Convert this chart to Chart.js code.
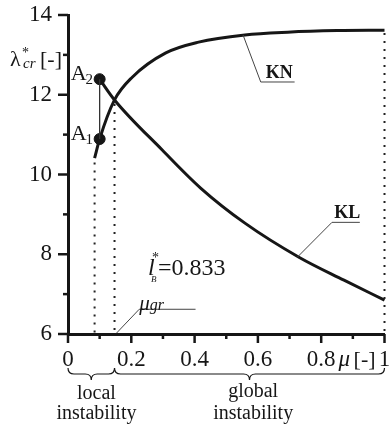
<!DOCTYPE html>
<html>
<head>
<meta charset="utf-8">
<script src="https://cdn.jsdelivr.net/npm/chart.js@4.4.1/dist/chart.umd.min.js"></script>
<style>
  html, body { margin: 0; padding: 0; background: #fff; }
  #probe { position: absolute; left: -999px; top: 0; font-family: "Liberation Serif"; }
</style>
</head>
<body>
<span id="probe">0.2 <i>μ</i> <b>KN</b></span>
<canvas id="chart" width="391" height="430"></canvas>
<script>
// ================= DATA =================
// KN curve (rising)
const knMu     = [0.084, 0.1,   0.147, 0.203, 0.309, 0.4125, 0.559, 0.694, 0.85,  1.0];
const knLambda = [10.41, 10.89, 11.87, 12.44, 13.05, 13.32,  13.50, 13.57, 13.61, 13.62];

// KL curve (falling), starts at A2
const klMu     = [0.1,   0.147, 0.297, 0.419, 0.559, 0.731, 0.872, 1.0];
const klLambda = [12.39, 11.87, 10.62, 9.66,  8.78,  7.92,  7.35,  6.85];

// marked points
const pointNames  = ['1', '2'];
const pointMu     = [0.1, 0.1];
const pointLambda = [10.89, 12.39];

const muStart = 0.084;   // start of KN
const muGr    = 0.147;   // crossing of KN and KL
const lambdaGr = 11.87;
const lbValue = '0.833';

// axes
const xTickValues = [0, 0.2, 0.4, 0.6, 0.8, 1];
const xTickLabels = ['0', '0.2', '0.4', '0.6', '0.8', '1'];
const yTickValues = [6, 8, 10, 12, 14];
const yTickLabels = ['6', '8', '10', '12', '14'];

const INK = '#161616';
const SERIF = '"Liberation Serif", "Times New Roman", serif';

// ================= HELPERS =================
const pts = (xs, ys) => xs.map((x, i) => ({ x: x, y: ys[i] }));

function labelFor(v, values, labels) {
  const i = values.findIndex(t => Math.abs(t - v) < 1e-6);
  return i < 0 ? '' : labels[i];
}

function lineSet(data, extra) {
  return Object.assign({
    data: data, showLine: true, pointRadius: 0, borderColor: INK,
    borderWidth: 1, fill: false, clip: false
  }, extra);
}

// ================= DECOR PLUGIN =================
const decor = {
  id: 'decor',
  afterDraw(chart) {
    const { ctx, chartArea: area } = chart;
    const xs = chart.scales.x, ys = chart.scales.y;
    const px = v => xs.getPixelForValue(v);
    const py = v => ys.getPixelForValue(v);

    ctx.save();
    ctx.strokeStyle = INK;
    ctx.fillStyle = INK;

    // tick marks (long for labelled, short for the rest)
    ctx.lineWidth = 2.5;
    xs.ticks.forEach(t => {
      const x = px(t.value);
      const len = labelFor(t.value, xTickValues, xTickLabels) ? 9 : 5;
      ctx.beginPath(); ctx.moveTo(x, area.bottom); ctx.lineTo(x, area.bottom + len); ctx.stroke();
    });
    ys.ticks.forEach(t => {
      const y = py(t.value);
      const len = labelFor(t.value, yTickValues, yTickLabels) ? 10 : 5;
      ctx.beginPath(); ctx.moveTo(area.left, y); ctx.lineTo(area.left - len, y); ctx.stroke();
    });

    const text = (s, x, y, font, align) => {
      ctx.font = font;
      ctx.textAlign = align || 'left';
      ctx.textBaseline = 'alphabetic';
      ctx.fillText(s, x, y);
      return ctx.measureText(s).width;
    };

    // y axis title  λ*cr [-]
    const tx = area.left - 58, ty = py(12.72);
    text('λ', tx, ty, '22px ' + SERIF);
    text('*', tx + 12, ty - 9, '14px ' + SERIF);
    text('cr', tx + 13, ty + 2, 'italic 15px ' + SERIF);
    text('[-]', tx + 30, ty, '22px ' + SERIF);

    // x axis title  μ [-]
    const mx = px(0.855), my = area.bottom + 32;
    text('μ', mx, my, 'italic 23px ' + SERIF);
    text('[-]', mx + 15, my, '22px ' + SERIF);

    // point labels A1, A2
    pointNames.forEach((n, i) => {
      const x = px(pointMu[i]) - 29, y = py(pointLambda[i]);
      const w = text('A', x, y + 1, '22px ' + SERIF);
      text(n, x + w - 1, y + 5, '15px ' + SERIF);
    });

    // curve labels
    text('KN', px(0.625), py(12.42), 'bold 18px ' + SERIF);
    text('KL', px(0.841), py(8.91), 'bold 18px ' + SERIF);

    // μgr
    const gx = px(0.225), gy = py(6.6);
    const gw = text('μ', gx, gy, 'italic 21px ' + SERIF);
    text('gr', gx + gw, gy, 'italic 16px ' + SERIF);

    // l*B = 0.833
    const lx = px(0.253), ly = py(7.48);
    text('l', lx, ly, 'italic 24px ' + SERIF);
    text('*', lx + 4, ly - 13, '14px ' + SERIF);
    text('B', lx + 3, ly + 7, 'italic 9px ' + SERIF);
    text('=' + lbValue, lx + 10, ly, '24px ' + SERIF);

    // braces under the x axis
    const brace = (x1, x2, y, r) => {
      const xm = (x1 + x2) / 2;
      ctx.beginPath();
      ctx.moveTo(x1, y);
      ctx.quadraticCurveTo(x1, y + r, x1 + r, y + r);
      ctx.lineTo(xm - r, y + r);
      ctx.quadraticCurveTo(xm, y + r, xm, y + 2 * r);
      ctx.quadraticCurveTo(xm, y + r, xm + r, y + r);
      ctx.lineTo(x2 - r, y + r);
      ctx.quadraticCurveTo(x2, y + r, x2, y);
      ctx.stroke();
    };
    ctx.lineWidth = 1.2;
    brace(px(0), px(muGr), area.bottom + 34, 6);
    brace(px(muGr), px(1), area.bottom + 34, 6);

    text('local', px(0.09), area.bottom + 65, '20px ' + SERIF, 'center');
    text('instability', px(0.09), area.bottom + 85, '20px ' + SERIF, 'center');
    text('global', px(0.585), area.bottom + 63, '20px ' + SERIF, 'center');
    text('instability', px(0.585), area.bottom + 85, '20px ' + SERIF, 'center');

    ctx.restore();
  }
};

// ================= CHART =================
const dotted = { borderWidth: 2, borderDash: [2, 6], borderColor: '#222' };
const leader = { borderWidth: 1, borderColor: '#444' };

function draw() {
  new Chart(document.getElementById('chart'), {
    type: 'scatter',
    data: {
      datasets: [
        lineSet([{ x: muStart, y: 10.3 }, { x: muStart, y: 6 }], dotted),
        lineSet([{ x: muGr, y: lambdaGr - 0.1 }, { x: muGr, y: 6 }], dotted),
        lineSet([{ x: 1, y: 13.55 }, { x: 1, y: 6 }], dotted),
        lineSet(pts(pointMu, pointLambda), { borderWidth: 1.3, borderColor: '#333' }),
        lineSet([{ x: 0.553, y: 13.5 }, { x: 0.609, y: 12.32 }, { x: 0.716, y: 12.32 }], leader),
        lineSet([{ x: 0.725, y: 7.93 }, { x: 0.834, y: 8.8 }, { x: 0.922, y: 8.8 }], leader),
        lineSet([{ x: 0.153, y: 6.02 }, { x: 0.225, y: 6.62 }, { x: 0.403, y: 6.62 }], leader),
        lineSet(pts(knMu, knLambda), { borderWidth: 3, cubicInterpolationMode: 'monotone' }),
        lineSet(pts(klMu, klLambda), { borderWidth: 3, cubicInterpolationMode: 'monotone' }),
        { data: pts(pointMu, pointLambda), pointRadius: 5.5, backgroundColor: INK, borderColor: INK, clip: false }
      ]
    },
    options: {
      responsive: false,
      animation: false,
      layout: { padding: { top: 15, right: 3, left: 0, bottom: 0 } },
      plugins: { legend: { display: false }, tooltip: { enabled: false } },
      scales: {
        x: {
          type: 'linear', min: 0, max: 1,
          grid: { display: false, drawTicks: false },
          border: { display: true, width: 3, color: INK },
          ticks: {
            stepSize: 0.1, autoSkip: false, maxRotation: 0, padding: 12,
            color: INK, font: { family: SERIF, size: 23 },
            callback: v => labelFor(v, xTickValues, xTickLabels)
          },
          afterFit: s => { s.height = 96; s.paddingLeft = 0; s.paddingRight = 0; }
        },
        y: {
          type: 'linear', min: 6, max: 14,
          grid: { display: false, drawTicks: false },
          border: { display: true, width: 3, color: INK },
          ticks: {
            stepSize: 1, autoSkip: false, padding: 16,
            color: INK, font: { family: SERIF, size: 23 },
            callback: v => labelFor(v, yTickValues, yTickLabels)
          },
          afterFit: s => { s.width = 68; s.paddingTop = 0; s.paddingBottom = 0; }
        }
      }
    },
    plugins: [decor]
  });
}

Promise.all([
  document.fonts.load('23px "Liberation Serif"'),
  document.fonts.load('italic 23px "Liberation Serif"'),
  document.fonts.load('bold 18px "Liberation Serif"')
]).then(draw, draw);
</script>
</body>
</html>
